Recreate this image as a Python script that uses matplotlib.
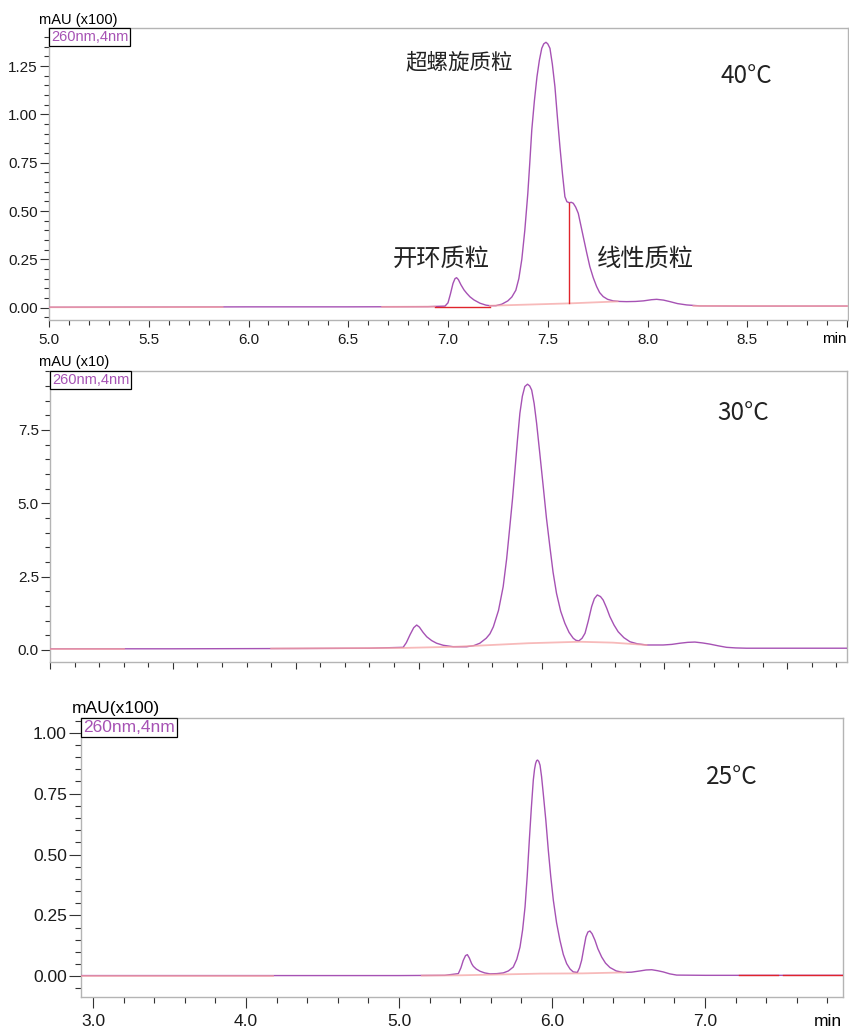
import matplotlib
matplotlib.use('Agg')
import matplotlib.pyplot as plt
from matplotlib.ticker import MultipleLocator, FormatStrFormatter, FuncFormatter, NullFormatter

plt.rcParams['font.family'] = ['Liberation Sans', 'Noto Sans CJK SC', 'DejaVu Sans']

# ---------------------------- data ----------------------------
# 40 C run, signal in mAU x100
t_40 = [5.0, 5.5, 6.0, 6.5, 6.9, 6.985, 7.0, 7.012, 7.025, 7.035, 7.043, 7.052, 7.065,
        7.08, 7.094, 7.11, 7.13, 7.16, 7.19, 7.21, 7.24, 7.27, 7.30, 7.32, 7.34, 7.355,
        7.37, 7.385, 7.40, 7.41, 7.42, 7.433, 7.446, 7.458, 7.47, 7.48, 7.491, 7.50, 7.511,
        7.523, 7.536, 7.548, 7.561, 7.574, 7.586, 7.596, 7.608, 7.618, 7.628, 7.64, 7.653,
        7.665, 7.678, 7.695, 7.711, 7.728, 7.745, 7.76, 7.778, 7.80, 7.828, 7.86, 7.895,
        7.94, 7.98, 8.02, 8.046, 8.08, 8.113, 8.15, 8.196, 8.263, 8.5, 9.0]
s_40 = [0.002, 0.003, 0.004, 0.004, 0.005, 0.008, 0.025, 0.07, 0.125, 0.15, 0.155, 0.145,
        0.118, 0.092, 0.074, 0.056, 0.040, 0.023, 0.013, 0.010, 0.010, 0.018, 0.035, 0.055,
        0.09, 0.15, 0.25, 0.40, 0.59, 0.75, 0.92, 1.07, 1.195, 1.28, 1.342, 1.365, 1.373,
        1.365, 1.342, 1.26, 1.143, 0.99, 0.833, 0.69, 0.574, 0.548, 0.543, 0.545, 0.540,
        0.520, 0.488, 0.430, 0.367, 0.285, 0.212, 0.155, 0.109, 0.078, 0.057, 0.043, 0.035,
        0.032, 0.031, 0.032, 0.035, 0.041, 0.043, 0.039, 0.031, 0.021, 0.014, 0.009, 0.008,
        0.008]
base_40_t = [[5.0, 5.87], [6.67, 6.935], [7.21, 7.61, 7.85], [8.23, 9.0]]
base_40_s = [[0.002, 0.003], [0.004, 0.005], [0.010, 0.022, 0.032], [0.009, 0.008]]
red_40_t = [[6.935, 7.21], [7.608, 7.608]]
red_40_s = [[0.005, 0.005], [0.022, 0.543]]

# 30 C run, signal in mAU x10
t_30 = [5.0, 5.5, 6.0, 6.3, 6.437, 6.45, 6.465, 6.48, 6.492, 6.503, 6.518, 6.533, 6.553,
        6.573, 6.60, 6.641, 6.695, 6.725, 6.749, 6.775, 6.79, 6.804, 6.825, 6.844, 6.858,
        6.871, 6.882, 6.892, 6.902, 6.912, 6.922, 6.932, 6.943, 6.952, 6.960, 6.970, 6.980,
        6.993, 7.007, 7.02, 7.034, 7.047, 7.061, 7.078, 7.095, 7.112, 7.129, 7.14, 7.152,
        7.165, 7.177, 7.19, 7.204, 7.215, 7.227, 7.24, 7.251, 7.265, 7.278, 7.295, 7.312,
        7.335, 7.360, 7.39, 7.427, 7.495, 7.53, 7.563, 7.595, 7.624, 7.655, 7.685, 7.72,
        7.753, 7.79, 7.834, 8.0, 8.243]
s_30 = [0.04, 0.04, 0.05, 0.06, 0.09, 0.25, 0.52, 0.76, 0.85, 0.78, 0.60, 0.45, 0.32,
        0.23, 0.16, 0.11, 0.11, 0.15, 0.23, 0.40, 0.55, 0.79, 1.35, 2.16, 3.10, 4.20, 5.15,
        6.14, 7.15, 8.07, 8.65, 8.98, 9.06, 9.00, 8.86, 8.40, 7.73, 6.70, 5.57, 4.50, 3.52,
        2.65, 1.93, 1.32, 0.91, 0.60, 0.40, 0.33, 0.31, 0.40, 0.57, 0.98, 1.48, 1.75, 1.875,
        1.82, 1.70, 1.43, 1.14, 0.85, 0.62, 0.42, 0.28, 0.21, 0.17, 0.17, 0.19, 0.23, 0.26,
        0.27, 0.24, 0.20, 0.14, 0.09, 0.07, 0.06, 0.06, 0.06]
base_30_t = [[5.0, 5.3], [5.9, 6.44, 6.65, 6.946, 7.156, 7.29, 7.427]]
base_30_s = [[0.04, 0.04], [0.05, 0.07, 0.11, 0.23, 0.28, 0.25, 0.17]]

# 25 C run, signal in mAU x100
t_25 = [2.92, 3.5, 4.0, 4.5, 5.0, 5.3, 5.388, 5.405, 5.42, 5.435, 5.447, 5.46, 5.475,
        5.486, 5.505, 5.529, 5.56, 5.595, 5.64, 5.682, 5.715, 5.747, 5.77, 5.791, 5.808,
        5.824, 5.838, 5.852, 5.865, 5.878, 5.886, 5.893, 5.90, 5.906, 5.914, 5.922, 5.932,
        5.943, 5.96, 5.976, 5.992, 6.009, 6.03, 6.052, 6.074, 6.096, 6.118, 6.139, 6.166,
        6.18, 6.194, 6.208, 6.222, 6.235, 6.248, 6.262, 6.281, 6.30, 6.325, 6.35, 6.379,
        6.42, 6.466, 6.52, 6.575, 6.615, 6.652, 6.69, 6.727, 6.77, 6.815, 7.0, 7.5, 7.90]
s_25 = [0.003, 0.003, 0.003, 0.003, 0.003, 0.004, 0.011, 0.035, 0.065, 0.085, 0.089,
        0.075, 0.052, 0.041, 0.030, 0.021, 0.014, 0.010, 0.011, 0.014, 0.022, 0.038, 0.070,
        0.120, 0.190, 0.285, 0.410, 0.559, 0.690, 0.806, 0.850, 0.874, 0.886, 0.888, 0.882,
        0.867, 0.820, 0.751, 0.640, 0.518, 0.410, 0.312, 0.220, 0.148, 0.090, 0.052, 0.030,
        0.018, 0.016, 0.035, 0.066, 0.115, 0.162, 0.182, 0.186, 0.175, 0.148, 0.113, 0.079,
        0.054, 0.036, 0.022, 0.016, 0.017, 0.022, 0.026, 0.027, 0.023, 0.018, 0.010, 0.005,
        0.004, 0.004, 0.004]
base_25_t = [[2.92, 4.18], [5.15, 5.39, 5.70, 5.92, 6.20, 6.48]]
base_25_s = [[0.003, 0.003], [0.003, 0.004, 0.008, 0.011, 0.012, 0.016]]
red_25_t = [[7.22, 7.48], [7.51, 7.90]]
red_25_s = [[0.004, 0.004], [0.004, 0.004]]

TRACE = '#a652b4'
BASE = '#f5a3a3'
RED = '#e0242c'
FRAME = '#b4b4b4'
INK = '#222222'

W, H = 849, 1030
fig = plt.figure(figsize=(W / 100, H / 100), dpi=100)


def rect(l, t, r, b):
    return [l / W, 1 - b / H, (r - l) / W, (b - t) / H]


def px(x, y):
    return x / W, 1 - y / H


def style(ax, xlim, ylim, xmaj, xmin, ymaj, ymin, yfmt, fs, ylen, xlen, xlabels):
    ax.set_xlim(*xlim)
    ax.set_ylim(*ylim)
    ax.xaxis.set_major_locator(MultipleLocator(xmaj))
    ax.xaxis.set_minor_locator(MultipleLocator(xmin))
    ax.yaxis.set_major_locator(MultipleLocator(ymaj))
    ax.yaxis.set_minor_locator(MultipleLocator(ymin))
    ax.yaxis.set_major_formatter(FormatStrFormatter(yfmt))
    if xlabels:
        # last tick at the right edge carries no number ("min" sits there)
        edge = xlim[1] - 0.1
        ax.xaxis.set_major_formatter(FuncFormatter(lambda v, p: '' if v > edge else f'{v:.1f}'))
    else:
        ax.xaxis.set_major_formatter(NullFormatter())
    for s in ax.spines.values():
        s.set_color(FRAME)
        s.set_linewidth(1.0)
    ax.tick_params(which='both', direction='out', color='#333333', width=0.8,
                   labelsize=fs, labelcolor='#1a1a1a')
    ax.tick_params(axis='y', which='major', length=ylen[0], pad=1.5)
    ax.tick_params(axis='y', which='minor', length=ylen[1])
    ax.tick_params(axis='x', which='major', length=xlen[0], pad=4)
    ax.tick_params(axis='x', which='minor', length=xlen[1])


def draw(ax, t, s, bt, bs, rt=(), rs=()):
    ax.plot(t, s, color=TRACE, lw=1.0, zorder=3)
    for x, y in zip(bt, bs):
        ax.plot(x, y, color=BASE, lw=1.3, alpha=0.75, zorder=4)
    for x, y in zip(rt, rs):
        ax.plot(x, y, color=RED, lw=1.0, zorder=5)


def channel_box(ax, fs):
    ax.annotate('260nm,4nm', xy=(0, 1), xycoords='axes fraction', xytext=(1.6, -1.6),
                textcoords='offset points', ha='left', va='top', fontsize=fs, color=TRACE,
                bbox=dict(boxstyle='square,pad=0.12', fc='white', ec='black', lw=0.9),
                zorder=10)


cjk = ['Noto Sans CJK SC', 'DejaVu Sans']

# ---------------------------- 40 C ----------------------------
ax1 = fig.add_axes(rect(49, 28, 848, 320))
draw(ax1, t_40, s_40, base_40_t, base_40_s, red_40_t, red_40_s)
style(ax1, (5.0, 9.005), (-0.064, 1.447), 0.5, 0.1, 0.25, 0.05, '%.2f', 11,
      (6.5, 3.6), (5, 3.5), True)
channel_box(ax1, 10.5)
fig.text(*px(78, 27), 'mAU (x100)', ha='center', va='bottom', fontsize=10.5)
fig.text(*px(847, 339), 'min', ha='right', va='center', fontsize=11)
ax1.text(7.055, 1.271, '超螺旋质粒', family=cjk, fontsize=15.5, ha='center', va='center',
         color=INK)
ax1.text(6.965, 0.252, '开环质粒', family=cjk, fontsize=17.5, ha='center', va='center',
         color=INK)
ax1.text(7.99, 0.252, '线性质粒', family=cjk, fontsize=17.5, ha='center', va='center',
         color=INK)
fig.text(*px(746, 76), '40°C', family=cjk, fontsize=17.5, ha='center', va='center',
         color=INK)

# ---------------------------- 30 C ----------------------------
ax2 = fig.add_axes(rect(50, 370.7, 847, 662))
draw(ax2, t_30, s_30, base_30_t, base_30_s)
style(ax2, (5.0, 8.243), (-0.41, 9.52), 0.5, 0.1, 2.5, 0.5, '%.1f', 11,
      (6.5, 3.6), (5, 3.5), False)
channel_box(ax2, 10.5)
fig.text(*px(74, 369), 'mAU (x10)', ha='center', va='bottom', fontsize=10.5)
fig.text(*px(743, 413), '30°C', family=cjk, fontsize=17.5, ha='center', va='center',
         color=INK)

# ---------------------------- 25 C ----------------------------
ax3 = fig.add_axes(rect(80.7, 717.7, 843, 997))
draw(ax3, t_25, s_25, base_25_t, base_25_s, red_25_t, red_25_s)
style(ax3, (2.92, 7.902), (-0.085, 1.062), 1.0, 0.2, 0.25, 0.05, '%.2f', 12.5,
      (8.5, 4.3), (8, 4), True)
channel_box(ax3, 12.5)
fig.text(*px(115.5, 716), 'mAU(x100)', ha='center', va='bottom', fontsize=12.5)
fig.text(*px(842, 1021), 'min', ha='right', va='center', fontsize=12.5)
fig.text(*px(732, 777), '25°C', family=cjk, fontsize=17.5, ha='center', va='center',
         color=INK)

fig.savefig('out.png', dpi=100)
